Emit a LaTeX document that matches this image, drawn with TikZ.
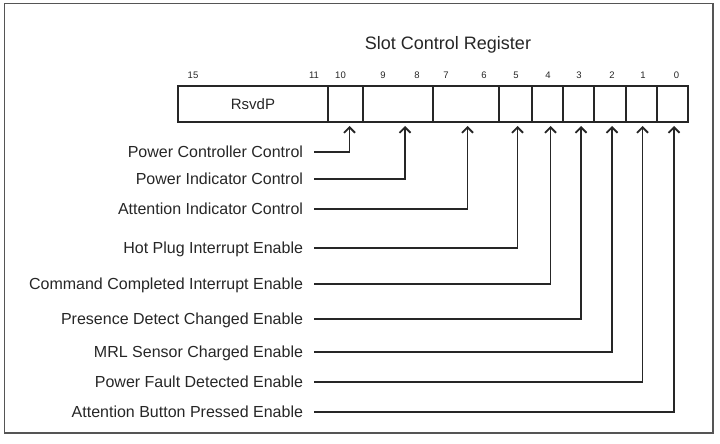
\documentclass[tikz,border=0pt]{standalone}
\usepackage{fontspec}
\setmainfont{Liberation Sans}
\usetikzlibrary{arrows.meta,positioning}
\definecolor{ink}{HTML}{262626}
\definecolor{framegray}{HTML}{555555}
\tikzset{
  cell/.style={rectangle, draw=ink, line width=1.5pt, outer sep=0pt, inner sep=0pt,
               minimum height=36pt, font=\fontsize{15}{15}\selectfont, text=ink},
  bitno/.style={inner sep=0pt, text height=6.5pt, text depth=0pt,
                font=\fontsize{9.5}{9.5}\selectfont, text=ink},
  fieldlbl/.style={anchor=east, inner sep=0pt, outer xsep=11pt, text height=11.5pt,
                   text depth=0pt, font=\fontsize{16}{16}\selectfont, text=ink},
  conn/.style={draw=ink, line width=1.5pt, -{Straight Barb[length=5.5pt,width=11pt,line width=1.8pt]}}
}
\begin{document}
\begin{tikzpicture}[x=1pt, y=-1pt]
  \useasboundingbox (0,0) rectangle (720,444);
  \draw[draw=framegray, line width=1.8pt] (4.5,3.5) rectangle (713,433);
  \node[font=\fontsize{18}{18}\selectfont, text=ink] (title) at (448,45) {Slot Control Register};
  % register fields
  \node[cell, minimum width=150pt, anchor=west] (rsvd) at (178,104) {RsvdP};
  \node[cell, minimum width=35pt, right=0pt of rsvd] (b10) {};
  \node[cell, minimum width=70pt, right=0pt of b10] (b98) {};
  \node[cell, minimum width=66pt, right=0pt of b98] (b76) {};
  \node[cell, minimum width=33pt, right=0pt of b76] (b5) {};
  \node[cell, minimum width=31pt, right=0pt of b5] (b4) {};
  \node[cell, minimum width=31pt, right=0pt of b4] (b3) {};
  \node[cell, minimum width=32pt, right=0pt of b3] (b2) {};
  \node[cell, minimum width=31pt, right=0pt of b2] (b1) {};
  \node[cell, minimum width=31pt, right=0pt of b1] (b0) {};
  % bit numbers
  \node[bitno] at ([xshift=15pt, yshift=11pt]rsvd.north west) {15};
  \node[bitno] at ([xshift=-14pt, yshift=11pt]rsvd.north east) {11};
  \node[bitno] at ([xshift=20pt, yshift=11pt]b98.north west) {9};
  \node[bitno] at ([xshift=-16pt, yshift=11pt]b98.north east) {8};
  \node[bitno] at ([xshift=13pt, yshift=11pt]b76.north west) {7};
  \node[bitno] at ([xshift=-15pt, yshift=11pt]b76.north east) {6};
  \foreach \c/\n/\dx in {b10/10/-5, b5/5/0.5, b4/4/0.5, b3/3/0.5, b2/2/2, b1/1/1.5, b0/0/4}
    \node[bitno] at ([xshift=\dx pt, yshift=11pt]\c.north) {\n};
  % field names and connectors
  \foreach \t/\y/\c/\dx [count=\i] in {
      Power Controller Control/152/b10/4,
      Power Indicator Control/179/b98/7,
      Attention Indicator Control/209/b76/1.5,
      Hot Plug Interrupt Enable/248/b5/2,
      Command Completed Interrupt Enable/284/b4/3,
      Presence Detect Changed Enable/319/b3/2.5,
      MRL Sensor Charged Enable/352/b2/2,
      Power Fault Detected Enable/382/b1/1,
      Attention Button Pressed Enable/412/b0/1.5} {
    \node[fieldlbl] (l\i) at (314,\y) {\t};
    \draw[conn] (l\i.east) -| ([xshift=\dx pt, yshift=-4pt]\c.south);
  }
\end{tikzpicture}
\end{document}
